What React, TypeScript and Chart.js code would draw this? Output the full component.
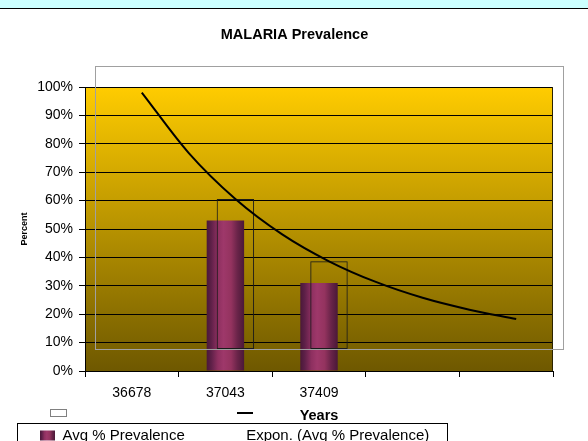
import React, { useEffect, useRef } from 'react';
import { Chart, registerables } from 'chart.js';

Chart.register(...registerables);

// ---- data ----
const CATEGORIES = ['36678', '37043', '37409', '', ''];
const PREVALENCE = [null, 53, 31, null, null];
// exponential trendline (x in category positions 1..5)
const TREND_X = [1, 1.5, 2, 2.5, 3, 3.5, 4, 4.5, 5];
const TREND_Y = [90.6, 69.3, 53, 40.5, 31, 23.7, 18.1, 13.9, 10.6];
const Y_MIN = 0;
const Y_MAX = 100;
const Y_STEP = 10;
const TITLE = 'MALARIA Prevalence';
const X_TITLE = 'Years';
const Y_TITLE = 'Percent';
const LEGEND_BAR = 'Avg % Prevalence';
const LEGEND_TREND = 'Expon. (Avg % Prevalence)';

const W = 588;
const H = 441;
const FONT = 'Liberation Sans, Arial, Helvetica, sans-serif';
const GHOST_PADDING = { left: 95, right: 25, top: 66, bottom: 92 };

const BAR_STOPS: [number, string][] = [
  [0, '#4a1838'],
  [0.12, '#5e2048'],
  [0.3, '#8e3060'],
  [0.45, '#9e386a'],
  [0.65, '#94335f'],
  [0.82, '#6a2449'],
  [1, '#4a1838'],
];

function barGradient(ctx: CanvasRenderingContext2D, x0: number, x1: number) {
  const g = ctx.createLinearGradient(x0, 0, x1, 0);
  BAR_STOPS.forEach(([o, c]) => g.addColorStop(o, c));
  return g;
}

const mainPlugin = {
  id: 'mainDecor',
  beforeDraw(chart: any) {
    const { ctx, chartArea } = chart;
    ctx.save();
    ctx.fillStyle = '#ffffff';
    ctx.fillRect(0, 0, W, H);
    ctx.fillStyle = '#ccffff';
    ctx.fillRect(0, 0, W, 8);
    ctx.fillStyle = '#000000';
    ctx.fillRect(0, 8, W, 1);
    const g = ctx.createLinearGradient(0, chartArea.top, 0, chartArea.bottom);
    g.addColorStop(0, '#ffcc00');
    g.addColorStop(1, '#6e5800');
    ctx.fillStyle = g;
    ctx.fillRect(chartArea.left, chartArea.top, chartArea.right - chartArea.left, chartArea.bottom - chartArea.top);
    ctx.restore();
  },
  afterDraw(chart: any) {
    const { ctx, chartArea } = chart;
    ctx.save();
    ctx.strokeStyle = '#2a2200';
    ctx.lineWidth = 1;
    ctx.beginPath();
    ctx.moveTo(Math.round(chartArea.right) - 0.5, chartArea.top);
    ctx.lineTo(Math.round(chartArea.right) - 0.5, chartArea.bottom);
    ctx.stroke();
    // legend frame
    ctx.strokeStyle = '#000000';
    ctx.strokeRect(17.5, 423.5, 430, 40);
    ctx.restore();
  },
};

const overlayPlugin = {
  id: 'overlayDecor',
  beforeDatasetsDraw(chart: any) {
    const { ctx, chartArea } = chart;
    ctx.save();
    ctx.strokeStyle = '#a0a0a0';
    ctx.lineWidth = 1;
    ctx.strokeRect(
      Math.round(chartArea.left) + 0.5,
      Math.round(chartArea.top) + 0.5,
      Math.round(chartArea.right - chartArea.left),
      Math.round(chartArea.bottom - chartArea.top)
    );
    ctx.restore();
  },
  afterDraw(chart: any) {
    const { ctx } = chart;
    ctx.save();
    ctx.fillStyle = '#ffffff';
    ctx.strokeStyle = '#808080';
    ctx.lineWidth = 1;
    ctx.fillRect(50.5, 409.5, 16, 7);
    ctx.strokeRect(50.5, 409.5, 16, 7);
    ctx.strokeStyle = '#000000';
    ctx.lineWidth = 2;
    ctx.beginPath();
    ctx.moveTo(237, 413);
    ctx.lineTo(253, 413);
    ctx.stroke();
    ctx.restore();
  },
};

export default function App() {
  const mainRef = useRef<HTMLCanvasElement>(null);
  const overRef = useRef<HTMLCanvasElement>(null);
  const trendRef = useRef<HTMLCanvasElement>(null);

  useEffect(() => {
    const main = new Chart(mainRef.current as HTMLCanvasElement, {
      type: 'bar',
      data: {
        labels: CATEGORIES,
        datasets: [
          {
            label: LEGEND_BAR,
            data: PREVALENCE,
            borderWidth: 0,
            barPercentage: 0.5,
            categoryPercentage: 0.8,
            backgroundColor: (c: any) => {
              const chart = c.chart;
              const xs = chart.scales && chart.scales.x;
              if (!xs || c.dataIndex === undefined) return '#9e386a';
              const cx = xs.getPixelForValue(c.dataIndex);
              const w = (xs.width / CATEGORIES.length) * 0.4;
              return barGradient(chart.ctx, cx - w / 2, cx + w / 2);
            },
          } as any,
        ],
      },
      options: {
        animation: false,
        responsive: false,
        maintainAspectRatio: false,
        devicePixelRatio: 1,
        events: [],
        layout: { padding: { left: 36, right: 35, top: 0, bottom: -12 } },
        plugins: {
          title: {
            display: true,
            text: TITLE,
            color: '#000',
            font: { family: FONT, size: 14.5, weight: 'bold' },
            padding: { top: 26, bottom: 43.6 },
          },
          legend: {
            display: true,
            position: 'bottom',
            align: 'start',
            labels: {
              boxWidth: 15,
              boxHeight: 10,
              padding: 4,
              color: '#000',
              font: { family: FONT, size: 15 },
              generateLabels: (chart: any) => [
                {
                  text: LEGEND_BAR,
                  fillStyle: barGradient(chart.ctx, 40, 55),
                  strokeStyle: 'rgba(0,0,0,0)',
                  lineWidth: 0,
                  hidden: false,
                  datasetIndex: 0,
                  fontColor: '#000',
                },
                {
                  text: '  ',
                  fillStyle: 'rgba(0,0,0,0)',
                  strokeStyle: 'rgba(0,0,0,0)',
                  lineWidth: 0,
                  hidden: false,
                  fontColor: '#000',
                },
                {
                  text: LEGEND_TREND,
                  fillStyle: 'rgba(0,0,0,0)',
                  strokeStyle: 'rgba(0,0,0,0)',
                  lineWidth: 0,
                  hidden: false,
                  fontColor: '#000',
                },
              ],
            },
          },
          tooltip: { enabled: false },
        },
        scales: {
          x: {
            type: 'category',
            offset: true,
            grid: {
              display: true,
              drawOnChartArea: false,
              drawTicks: true,
              tickLength: 6,
              color: '#000',
              offset: true,
            },
            border: { display: true, color: '#000' },
            ticks: {
              color: '#000',
              font: { family: FONT, size: 14 },
              padding: 8,
              maxRotation: 0,
              autoSkip: false,
            },
            title: {
              display: true,
              text: X_TITLE,
              color: '#000',
              font: { family: FONT, size: 14.5, weight: 'bold' },
              padding: { top: 0, bottom: -1 },
            },
            afterFit: (s: any) => {
              s.height = 53;
            },
          },
          y: {
            min: Y_MIN,
            max: Y_MAX,
            ticks: {
              stepSize: Y_STEP,
              callback: (v: any) => `${v}%`,
              color: '#000',
              font: { family: FONT, size: 14 },
              padding: 6,
            },
            grid: { color: '#000', tickLength: 6, lineWidth: 1 },
            border: { display: true, color: '#000' },
            title: {
              display: true,
              text: Y_TITLE,
              color: '#000',
              font: { family: FONT, size: 9, weight: 'bold' },
              padding: { top: -17, bottom: 0 },
            },
            afterFit: (s: any) => {
              s.width = 49;
            },
          },
        },
      } as any,
      plugins: [mainPlugin],
    });

    const over = new Chart(overRef.current as HTMLCanvasElement, {
      type: 'bar',
      data: {
        labels: CATEGORIES,
        datasets: [
          {
            label: LEGEND_BAR,
            data: PREVALENCE,
            backgroundColor: 'rgba(0,0,0,0)',
            borderColor: '#1a1a1a',
            borderWidth: 1,
            borderSkipped: false,
            barPercentage: 0.5,
            categoryPercentage: 0.8,
          } as any,
        ],
      },
      options: {
        animation: false,
        responsive: false,
        maintainAspectRatio: false,
        devicePixelRatio: 1,
        events: [],
        layout: { padding: GHOST_PADDING },
        plugins: {
          legend: { display: false },
          title: { display: false },
          tooltip: { enabled: false },
        },
        scales: {
          x: { type: 'category', offset: true, display: false },
          y: { min: Y_MIN, max: Y_MAX, display: false },
        },
      } as any,
      plugins: [overlayPlugin],
    });

    const trend = new Chart(trendRef.current as HTMLCanvasElement, {
      type: 'line',
      data: {
        datasets: [
          {
            label: LEGEND_TREND,
            data: TREND_X.map((x, i) => ({ x, y: TREND_Y[i] })),
            borderColor: '#000',
            borderWidth: 2,
            pointRadius: 0,
            fill: false,
            cubicInterpolationMode: 'monotone',
          } as any,
        ],
      },
      options: {
        animation: false,
        responsive: false,
        maintainAspectRatio: false,
        devicePixelRatio: 1,
        events: [],
        layout: { padding: GHOST_PADDING },
        plugins: {
          legend: { display: false },
          title: { display: false },
          tooltip: { enabled: false },
        },
        scales: {
          x: { type: 'linear', min: 0.5, max: 5.5, offset: false, display: false },
          y: { min: Y_MIN, max: Y_MAX, display: false },
        },
      } as any,
    });

    return () => {
      main.destroy();
      over.destroy();
      trend.destroy();
    };
  }, []);

  const cs: React.CSSProperties = { position: 'absolute', left: 0, top: 0, width: W, height: H };
  return (
    <div style={{ position: 'absolute', left: 0, top: 0, width: W, height: H, overflow: 'hidden', background: '#fff' }}>
      <canvas ref={mainRef} width={W} height={H} style={cs} />
      <canvas ref={overRef} width={W} height={H} style={cs} />
      <canvas ref={trendRef} width={W} height={H} style={cs} />
    </div>
  );
}
